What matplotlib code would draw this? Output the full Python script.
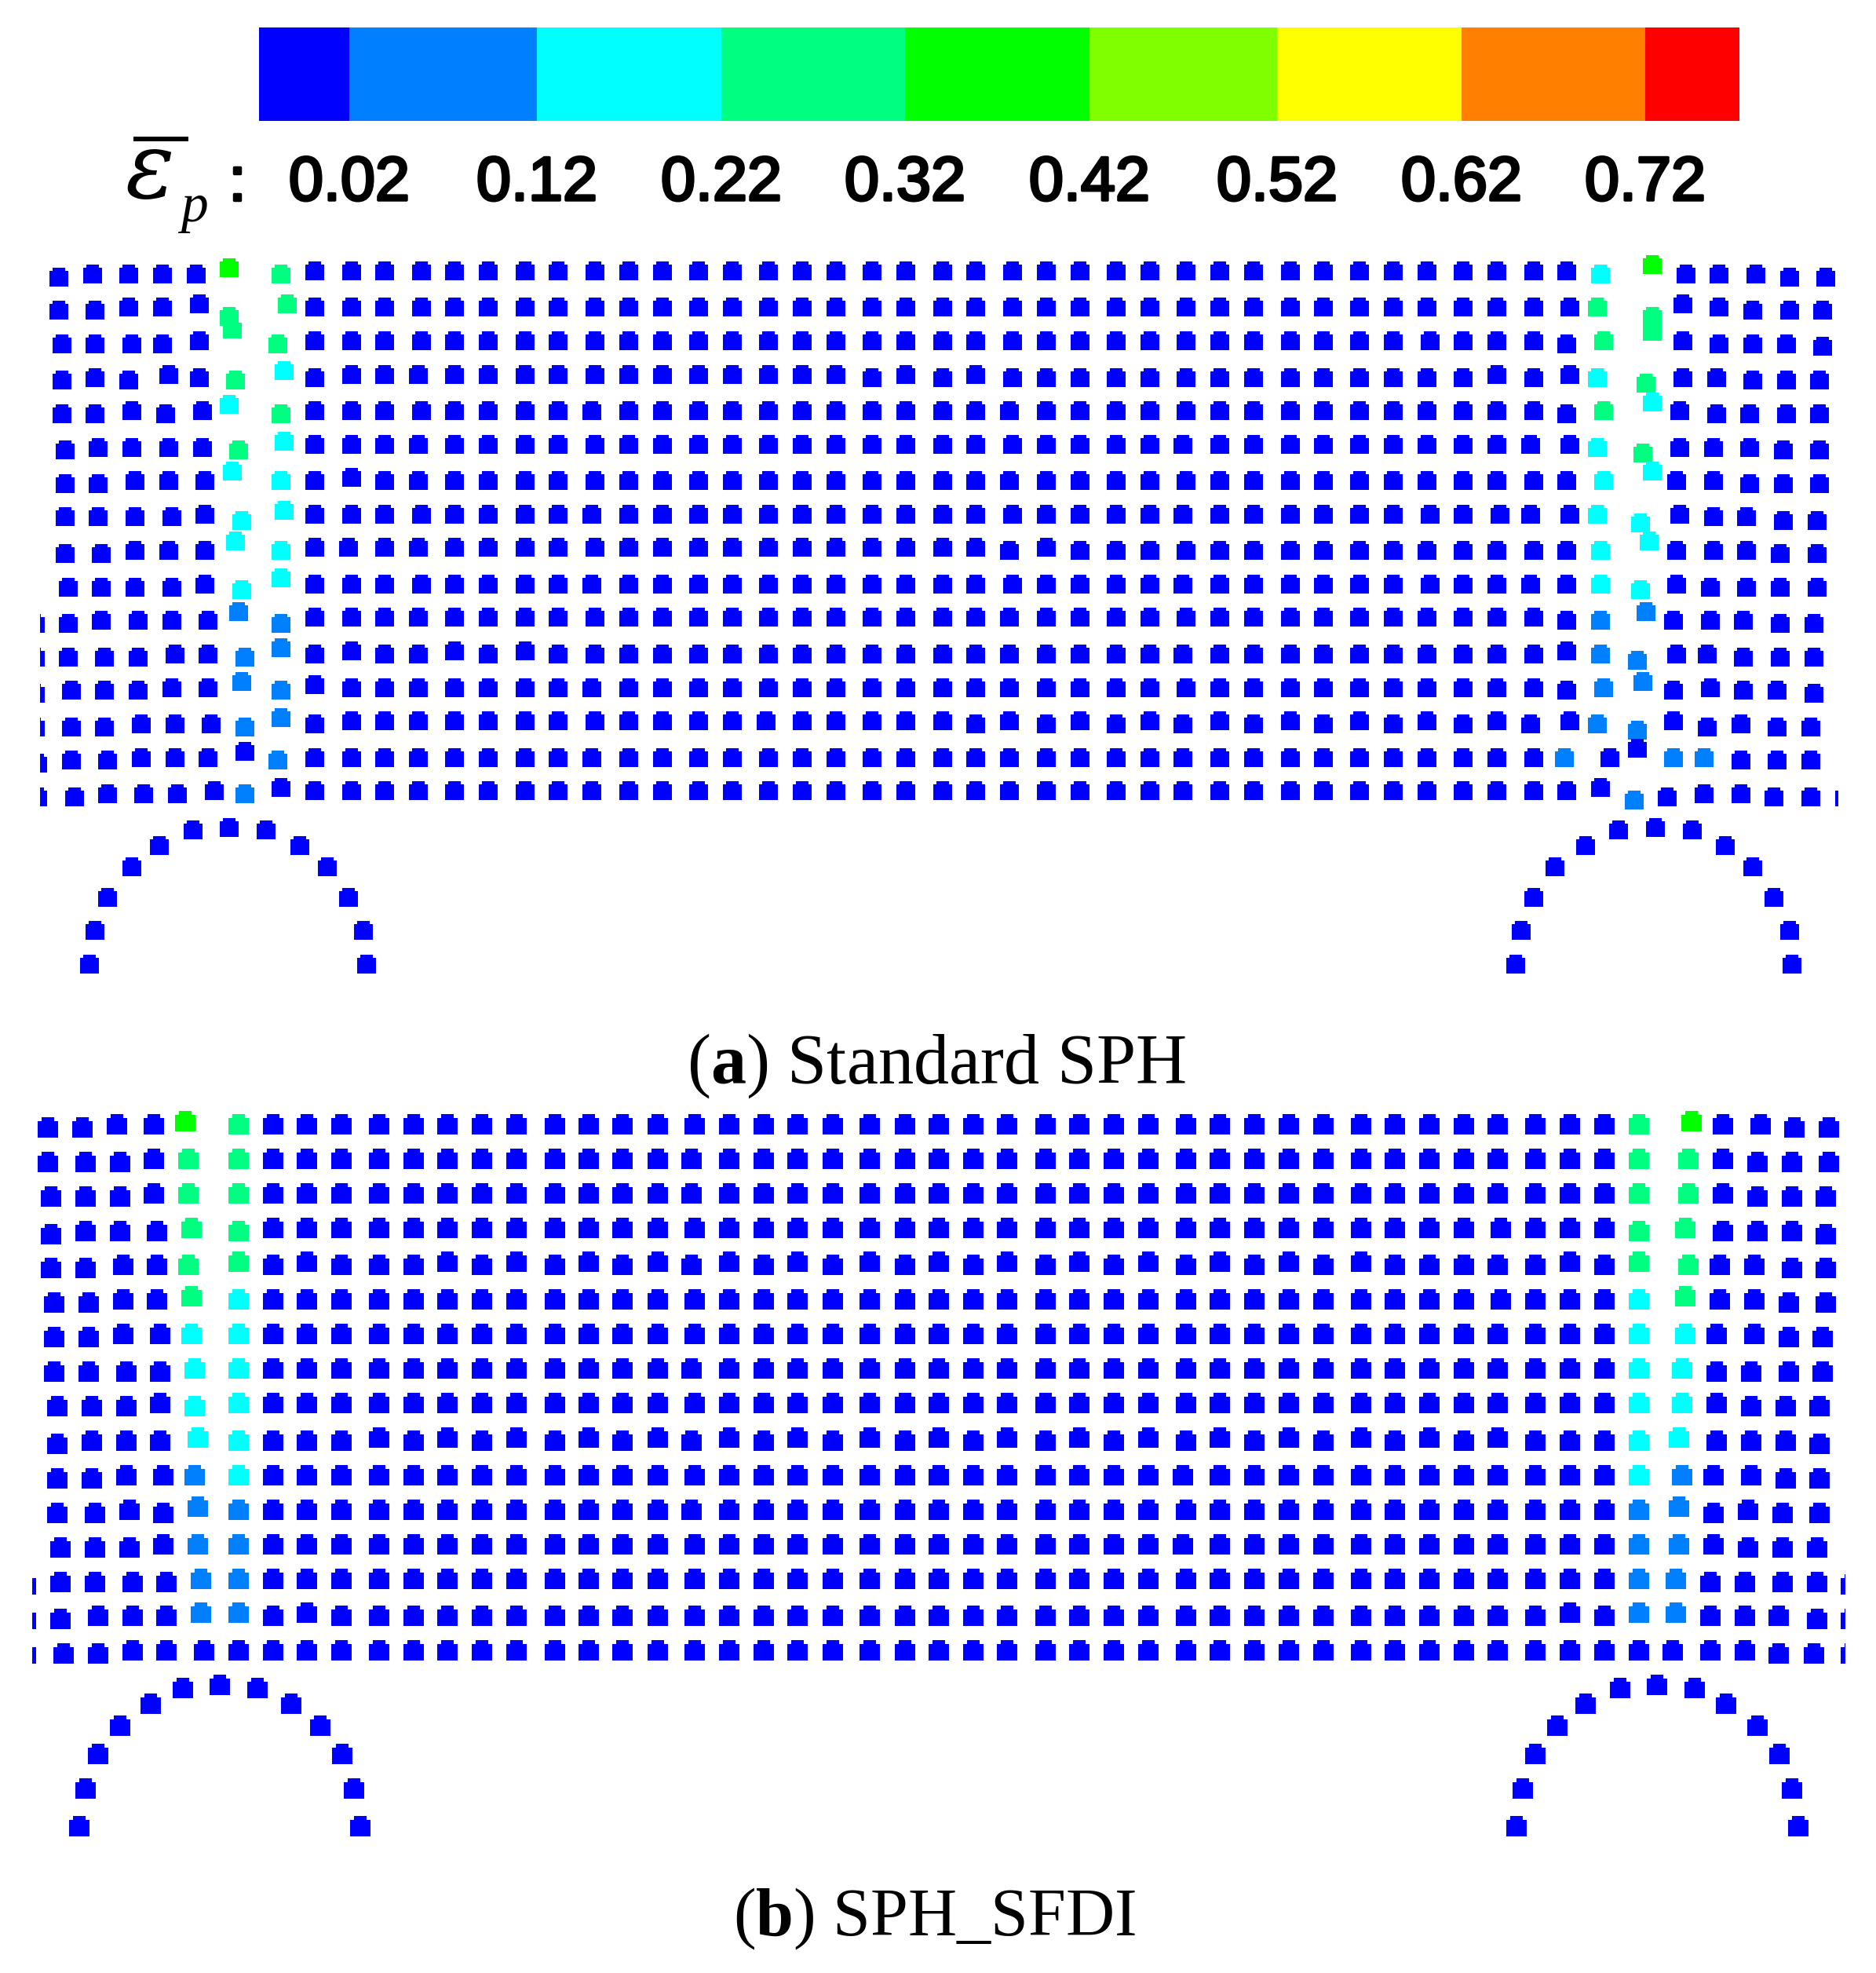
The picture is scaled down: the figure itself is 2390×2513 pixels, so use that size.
import numpy as np
import matplotlib
matplotlib.use("Agg")
import matplotlib.pyplot as plt
import matplotlib.patheffects as pe
from matplotlib.colors import ListedColormap, BoundaryNorm
from matplotlib.patches import Rectangle
from matplotlib.path import Path

plt.rcParams['mathtext.fontset'] = 'custom'
plt.rcParams['mathtext.rm'] = 'Liberation Serif'
plt.rcParams['mathtext.bf'] = 'Liberation Serif:bold'
plt.rcParams['mathtext.it'] = 'Liberation Serif:italic'

# colour bands of the equivalent plastic strain
band_colors = ['#0000ff', '#0080ff', '#00ffff', '#00ff80', '#00ff00', '#80ff00', '#ffff00', '#ff8000', '#ff0000']
cbar_edges = [330, 445, 684, 919, 1153, 1388, 1627, 1862, 2096, 2216]
cbar_labels = ['0.02', '0.12', '0.22', '0.32', '0.42', '0.52', '0.62', '0.72']

# ---------- panel (a), particle positions in image units ----------
a_mid_x = [401, 448, 490, 537, 579, 622, 669, 711, 758, 801, 844, 890, 933, 979, 1022, 1065, 1111, 1154,
           1201, 1243, 1290, 1333, 1376, 1422, 1465, 1511, 1554, 1597, 1644, 1686, 1732, 1775, 1818, 1864, 1907, 1954]
a_mid_y = [345, 391, 434, 477, 523, 566, 612, 655, 697, 744, 786, 833, 876, 918, 965, 1007]
# column: (dx, rows)
a_shift_x = {1: (-4, [8]), 3: (-4, [3, 5, 6, 8, 10, 11, 12, 13, 14, 15]), 8: (-4, [4, 7, 9, 12, 14, 15]),
             13: (-3, [13]), 20: (-4, [4, 6, 8, 10, 11, 12, 13, 14, 15]), 25: (-4, [5, 7, 9, 11, 13, 14, 15]),
             32: (4, [2, 7, 9]), 34: (4, [7]), 35: (-4, [5, 7, 9, 13])}
# row: (dy, columns)
a_shift_y = {3: (4, [0, 16, 18, 20, 21, 22, 23, 24, 25, 26, 27, 28, 29, 30, 31, 32, 33, 35]),
             6: (-4, [1]),
             8: (4, [20, 22, 23, 24, 25, 26, 27, 28, 29, 30, 31, 32, 33, 34, 35]),
             11: (-4, [1, 4, 6]),
             12: (-4, [0]),
             13: (4, [0, 19, 21, 23, 25, 27, 29, 31, 33, 35])}

a_left_x = [[75, 118, 164, 207, 250, 292, 358],
            [75, 121, 164, 207, 254, 292, 366],
            [79, 121, 168, 207, 254, 296, 354],
            [79, 121, 164, 215, 254, 300, 362],
            [79, 121, 168, 211, 258, 292, 358],
            [83, 125, 168, 215, 258, 304, 362],
            [83, 125, 172, 215, 261, 296, 358],
            [83, 125, 172, 219, 261, 308, 362],
            [83, 129, 172, 215, 261, 300, 358],
            [87, 129, 172, 219, 261, 308, 358],
            [44.5, 87, 129, 176, 219, 265, 304, 358],
            [44.5, 87, 133, 176, 223, 265, 312, 358],
            [44.5, 91, 133, 176, 219, 265, 308, 358],
            [44.5, 91, 133, 180, 223, 269, 312, 358],
            [48, 91, 137, 180, 223, 265, 312, 354],
            [48, 95, 137, 183, 226, 273, 312, 358]]
a_left_y = [[353, 349, 349, 349, 349, 341, 349],
            [395, 395, 391, 391, 387, 403, 387],
            [438, 438, 438, 438, 434, 419, 438],
            [484, 481, 484, 477, 481, 484, 472],
            [527, 527, 523, 527, 523, 515, 527],
            [573, 570, 570, 570, 570, 573, 562],
            [616, 616, 612, 612, 612, 600, 612],
            [658, 658, 658, 658, 655, 663, 650],
            [705, 705, 701, 701, 701, 689, 701],
            [748, 748, 748, 748, 744, 751, 736],
            [794, 794, 790, 790, 790, 790, 779, 794],
            [837, 837, 837, 837, 833, 833, 837, 825],
            [883, 879, 879, 879, 876, 876, 868, 879],
            [926, 926, 926, 922, 922, 922, 926, 914],
            [972, 968, 968, 965, 965, 965, 957, 968],
            [1015, 1015, 1011, 1011, 1011, 1007, 1011, 1003]]
a_left_band = [[0, 0, 0, 0, 0, 4, 3],
               [0, 0, 0, 0, 0, 3, 3],
               [0, 0, 0, 0, 0, 3, 3],
               [0, 0, 0, 0, 0, 3, 2],
               [0, 0, 0, 0, 0, 2, 3],
               [0, 0, 0, 0, 0, 3, 2],
               [0, 0, 0, 0, 0, 2, 2],
               [0, 0, 0, 0, 0, 2, 2],
               [0, 0, 0, 0, 0, 2, 2],
               [0, 0, 0, 0, 0, 2, 2],
               [0, 0, 0, 0, 0, 0, 1, 1],
               [0, 0, 0, 0, 0, 0, 1, 1],
               [0, 0, 0, 0, 0, 0, 1, 1],
               [0, 0, 0, 0, 0, 0, 1, 1],
               [0, 0, 0, 0, 0, 0, 0, 1],
               [0, 0, 0, 0, 0, 0, 1, 0]]

a_right_x = [[1996, 2039, 2105, 2148, 2190, 2237, 2280, 2326],
             [2000, 2035, 2105, 2144, 2190, 2233, 2280, 2322],
             [1996, 2043, 2105, 2144, 2190, 2233, 2276, 2322],
             [2000, 2035, 2097, 2144, 2187, 2233, 2276, 2318],
             [1996, 2043, 2105, 2140, 2187, 2229, 2276, 2318],
             [2000, 2035, 2093, 2140, 2183, 2229, 2272, 2318],
             [1996, 2043, 2105, 2136, 2183, 2229, 2272, 2318],
             [2000, 2035, 2090, 2140, 2183, 2225, 2272, 2315],
             [1996, 2039, 2101, 2136, 2183, 2225, 2268, 2315],
             [1996, 2039, 2090, 2136, 2179, 2225, 2268, 2315],
             [1996, 2039, 2097, 2132, 2179, 2221, 2268, 2311],
             [1996, 2039, 2086, 2136, 2175, 2221, 2268, 2311],
             [1996, 2043, 2093, 2132, 2179, 2221, 2264, 2311],
             [2000, 2035, 2086, 2132, 2175, 2218, 2264, 2307],
             [1993, 2051, 2086, 2132, 2171, 2218, 2264, 2307],
             [1996, 2039, 2082, 2124, 2171, 2218, 2260, 2307, 2350]]
a_right_y = [[345, 349, 337, 349, 349, 349, 353, 353],
             [391, 391, 403, 387, 391, 395, 395, 395],
             [438, 434, 422, 434, 438, 438, 438, 441],
             [477, 481, 488, 481, 481, 484, 484, 484],
             [527, 523, 512, 523, 527, 527, 527, 527],
             [566, 570, 577, 570, 570, 570, 573, 573],
             [612, 612, 600, 612, 612, 616, 616, 616],
             [655, 655, 666, 655, 658, 658, 663, 663],
             [701, 701, 689, 701, 701, 701, 705, 705],
             [744, 744, 751, 744, 748, 748, 748, 748],
             [790, 790, 779, 790, 790, 790, 794, 794],
             [829, 833, 841, 833, 833, 837, 837, 837],
             [879, 876, 868, 879, 876, 879, 879, 883],
             [918, 922, 930, 918, 926, 922, 926, 926],
             [965, 965, 953, 965, 965, 968, 968, 968],
             [1007, 1003, 1019, 1015, 1011, 1011, 1015, 1015, 1015]]
a_right_band = [[0, 2, 4, 0, 0, 0, 0, 0],
                [0, 3, 3, 0, 0, 0, 0, 0],
                [0, 3, 3, 0, 0, 0, 0, 0],
                [0, 2, 3, 0, 0, 0, 0, 0],
                [0, 3, 2, 0, 0, 0, 0, 0],
                [0, 2, 3, 0, 0, 0, 0, 0],
                [0, 2, 2, 0, 0, 0, 0, 0],
                [0, 2, 2, 0, 0, 0, 0, 0],
                [0, 2, 2, 0, 0, 0, 0, 0],
                [0, 2, 2, 0, 0, 0, 0, 0],
                [0, 1, 1, 0, 0, 0, 0, 0],
                [0, 1, 1, 0, 0, 0, 0, 0],
                [0, 1, 1, 0, 0, 0, 0, 0],
                [0, 1, 1, 0, 0, 0, 0, 0],
                [1, 0, 0, 1, 1, 0, 0, 0],
                [0, 0, 1, 0, 0, 0, 0, 0, 0]]

a_arc_x = [114, 121, 137, 168, 203, 246, 292, 339, 382, 417, 444, 463, 467,
           1931, 1938, 1954, 1981, 2020, 2062, 2109, 2156, 2198, 2233, 2260, 2280, 2283]
a_arc_y = [1228, 1185, 1143, 1104, 1077, 1057, 1054, 1057, 1077, 1104, 1143, 1185, 1228,
           1228, 1185, 1143, 1104, 1077, 1057, 1054, 1057, 1077, 1104, 1143, 1185, 1228]

# ---------- panel (b) ----------
b_mid_x = [348, 391, 435, 483, 527, 570, 614, 658, 707, 750, 793, 838, 885, 929, 973, 1016, 1061, 1108, 1153, 1196,
           1240, 1283, 1332, 1375, 1419, 1463, 1511, 1554, 1598, 1642, 1686, 1734, 1777, 1821, 1865, 1908, 1956, 2000, 2044]
b_mid_y = [1432, 1476, 1520, 1564, 1611, 1655, 1699, 1743, 1787, 1835, 1879, 1923, 1967, 2011, 2058, 2102]
b_shift_x = {12: (-4, [1, 2, 4, 7, 9, 11]), 26: (-4, [10, 12]), 35: (4, [3, 5])}
b_shift_y = {4: (-4, [1, 5, 7, 9, 11, 13, 15, 17, 19, 21, 23, 25, 27, 29, 31, 37]),
             9: (-4, [3, 5, 7, 9, 11, 13, 15, 17, 19, 21, 23, 25, 27, 29, 31, 33, 35]),
             14: (-4, [1, 37])}

b_left_x = [[61, 105, 149, 196, 236, 304],
            [61, 109, 153, 196, 240, 304],
            [65, 109, 153, 196, 240, 304],
            [65, 109, 153, 200, 244, 304],
            [65, 109, 157, 200, 240, 304],
            [69, 113, 157, 200, 244, 304],
            [69, 113, 157, 204, 244, 304],
            [69, 113, 161, 204, 248, 304],
            [73, 117, 161, 204, 248, 304],
            [73, 117, 161, 204, 252, 304],
            [73, 117, 161, 208, 248, 304],
            [73, 121, 165, 208, 252, 304],
            [77, 121, 165, 208, 252, 304],
            [33, 77, 121, 169, 212, 256, 304],
            [33, 77, 125, 169, 212, 256, 304],
            [33, 81, 125, 169, 212, 260, 304]]
b_left_y = [[1436, 1436, 1432, 1432, 1428, 1432],
            [1480, 1480, 1480, 1476, 1476, 1476],
            [1524, 1524, 1524, 1520, 1520, 1520],
            [1572, 1568, 1568, 1568, 1564, 1568],
            [1615, 1615, 1611, 1611, 1611, 1607],
            [1659, 1659, 1655, 1655, 1651, 1655],
            [1703, 1703, 1699, 1699, 1699, 1699],
            [1747, 1747, 1747, 1747, 1743, 1743],
            [1791, 1791, 1791, 1787, 1791, 1787],
            [1839, 1835, 1835, 1835, 1831, 1835],
            [1883, 1883, 1879, 1879, 1879, 1879],
            [1927, 1927, 1923, 1927, 1919, 1923],
            [1971, 1971, 1971, 1967, 1967, 1967],
            [2018, 2015, 2015, 2015, 2015, 2011, 2011],
            [2062, 2062, 2058, 2058, 2058, 2054, 2054],
            [2106, 2106, 2106, 2102, 2102, 2102, 2102]]
b_left_band = [[0, 0, 0, 0, 4, 3],
               [0, 0, 0, 0, 3, 3],
               [0, 0, 0, 0, 3, 3],
               [0, 0, 0, 0, 3, 3],
               [0, 0, 0, 0, 3, 3],
               [0, 0, 0, 0, 3, 2],
               [0, 0, 0, 0, 2, 2],
               [0, 0, 0, 0, 2, 2],
               [0, 0, 0, 0, 2, 2],
               [0, 0, 0, 0, 2, 2],
               [0, 0, 0, 0, 1, 2],
               [0, 0, 0, 0, 1, 1],
               [0, 0, 0, 0, 1, 1],
               [0, 0, 0, 0, 0, 1, 1],
               [0, 0, 0, 0, 0, 1, 1],
               [0, 0, 0, 0, 0, 0, 0]]

b_right_x = [[2088, 2155, 2195, 2243, 2286, 2330],
             [2088, 2151, 2195, 2239, 2283, 2330],
             [2088, 2151, 2195, 2239, 2283, 2326],
             [2088, 2147, 2195, 2239, 2283, 2326],
             [2088, 2151, 2191, 2235, 2283, 2326],
             [2088, 2147, 2191, 2235, 2279, 2326],
             [2088, 2147, 2187, 2235, 2279, 2322],
             [2088, 2143, 2187, 2231, 2279, 2322],
             [2088, 2143, 2187, 2231, 2275, 2318],
             [2088, 2139, 2187, 2231, 2275, 2318],
             [2088, 2143, 2183, 2231, 2275, 2318],
             [2088, 2139, 2183, 2227, 2271, 2318],
             [2088, 2139, 2183, 2227, 2271, 2315],
             [2088, 2135, 2179, 2223, 2271, 2315, 2358],
             [2088, 2135, 2179, 2223, 2266, 2315, 2358],
             [2088, 2131, 2179, 2223, 2266, 2311, 2358]]
b_right_y = [[1432, 1428, 1432, 1432, 1436, 1436],
             [1476, 1476, 1476, 1480, 1480, 1480],
             [1520, 1520, 1520, 1524, 1524, 1524],
             [1568, 1564, 1568, 1568, 1568, 1572],
             [1607, 1611, 1611, 1611, 1615, 1615],
             [1655, 1651, 1655, 1655, 1659, 1659],
             [1699, 1699, 1699, 1699, 1703, 1703],
             [1743, 1743, 1747, 1747, 1747, 1747],
             [1787, 1787, 1787, 1791, 1791, 1791],
             [1835, 1831, 1835, 1835, 1835, 1839],
             [1879, 1879, 1879, 1879, 1883, 1883],
             [1923, 1919, 1927, 1923, 1927, 1927],
             [1967, 1967, 1967, 1971, 1971, 1971],
             [2011, 2011, 2015, 2015, 2015, 2015, 2018],
             [2054, 2054, 2058, 2058, 2058, 2062, 2062],
             [2102, 2102, 2102, 2102, 2106, 2106, 2106]]
b_right_band = [[3, 4, 0, 0, 0, 0],
                [3, 3, 0, 0, 0, 0],
                [3, 3, 0, 0, 0, 0],
                [3, 3, 0, 0, 0, 0],
                [3, 3, 0, 0, 0, 0],
                [2, 3, 0, 0, 0, 0],
                [2, 2, 0, 0, 0, 0],
                [2, 2, 0, 0, 0, 0],
                [2, 2, 0, 0, 0, 0],
                [2, 2, 0, 0, 0, 0],
                [2, 1, 0, 0, 0, 0],
                [1, 1, 0, 0, 0, 0],
                [1, 1, 0, 0, 0, 0],
                [1, 1, 0, 0, 0, 0, 0],
                [1, 1, 0, 0, 0, 0, 0],
                [0, 0, 0, 0, 0, 0, 0]]

b_arc_x = [101, 109, 125, 153, 192, 233, 280, 328, 371, 408, 436, 451, 459,
           1932, 1940, 1956, 1984, 2020, 2064, 2111, 2159, 2199, 2239, 2267, 2283, 2291]
b_arc_y = [2326, 2278, 2234, 2198, 2170, 2150, 2146, 2150, 2170, 2198, 2234, 2278, 2326,
           2326, 2278, 2234, 2198, 2170, 2150, 2146, 2150, 2170, 2198, 2234, 2278, 2326]


def collect(mid_x, mid_y, shift_x, shift_y, left_x, left_y, left_band,
            right_x, right_y, right_band, arc_x, arc_y):
    xs, ys, bands = [], [], []
    for r in range(len(mid_y)):
        xs += left_x[r]
        ys += left_y[r]
        bands += left_band[r]
        for c, x in enumerate(mid_x):
            y = mid_y[r]
            if c in shift_x and r in shift_x[c][1]:
                x = x + shift_x[c][0]
            if r in shift_y and c in shift_y[r][1]:
                y = y + shift_y[r][0]
            xs.append(x)
            ys.append(y)
            bands.append(0)
        xs += right_x[r]
        ys += right_y[r]
        bands += right_band[r]
    xs += arc_x
    ys += arc_y
    bands += [0] * len(arc_x)
    return np.array(xs), np.array(ys), np.array(bands)


# particle glyph: square with a notched top edge
h = 11.5
n = 4.0
glyph = Path([(-h, -h), (h, -h), (h, h - n), (h - n, h - n), (h - n, h), (-h + n, h), (-h + n, h - n), (-h, h - n), (-h, -h)],
             closed=True)

cmap = ListedColormap(band_colors)
norm = BoundaryNorm(np.arange(-0.5, 9.5), 9)

fig = plt.figure(figsize=(23.9, 25.13), dpi=100)
ax = fig.add_axes([0, 0, 1, 1])
ax.set_xlim(0, 2390)
ax.set_ylim(2513, 0)
ax.axis('off')

# colour bar
ax.pcolormesh(cbar_edges, [35, 154], [np.arange(9)], cmap=cmap, norm=norm)
heavy = [pe.withStroke(linewidth=2.5, foreground='black')]
for x, label in zip(cbar_edges[1:-1], cbar_labels):
    ax.text(x, 255, label, ha='center', va='baseline', fontsize=57, family='Liberation Sans', path_effects=heavy)

# strain symbol
ax.text(191, 252, '\u03b5', ha='center', va='baseline', fontsize=84, family='DejaVu Serif', style='italic')
ax.plot([170, 240], [177, 177], color='black', lw=4.2, solid_capstyle='butt')
ax.text(247, 282, 'p', ha='center', va='baseline', fontsize=50, family='Liberation Serif', style='italic')
ax.text(302, 255, ':', ha='center', va='baseline', fontsize=57, family='Liberation Sans', path_effects=heavy)

# panels
xa, ya, ca = collect(a_mid_x, a_mid_y, a_shift_x, a_shift_y, a_left_x, a_left_y, a_left_band,
                     a_right_x, a_right_y, a_right_band, a_arc_x, a_arc_y)
sc = ax.scatter(xa, ya, c=ca, cmap=cmap, norm=norm, marker=glyph, s=(24.5 * 0.72) ** 2, linewidths=0)
sc.set_clip_path(Rectangle((51, 300), 2291, 1000, transform=ax.transData))

xb, yb, cb = collect(b_mid_x, b_mid_y, b_shift_x, b_shift_y, b_left_x, b_left_y, b_left_band,
                     b_right_x, b_right_y, b_right_band, b_arc_x, b_arc_y)
sc = ax.scatter(xb, yb, c=cb, cmap=cmap, norm=norm, marker=glyph, s=(25.5 * 0.72) ** 2, linewidths=0)
sc.set_clip_path(Rectangle((41, 1400), 2310, 1000, transform=ax.transData))

# captions
ax.text(1193, 1380, r'($\mathbf{a}$) Standard SPH', ha='center', va='baseline', fontsize=65, family='Liberation Serif')
ax.text(1191, 2465, r'($\mathbf{b}$) SPH_SFDI', ha='center', va='baseline', fontsize=62, family='Liberation Serif')

fig.savefig('out.png', dpi=100)
